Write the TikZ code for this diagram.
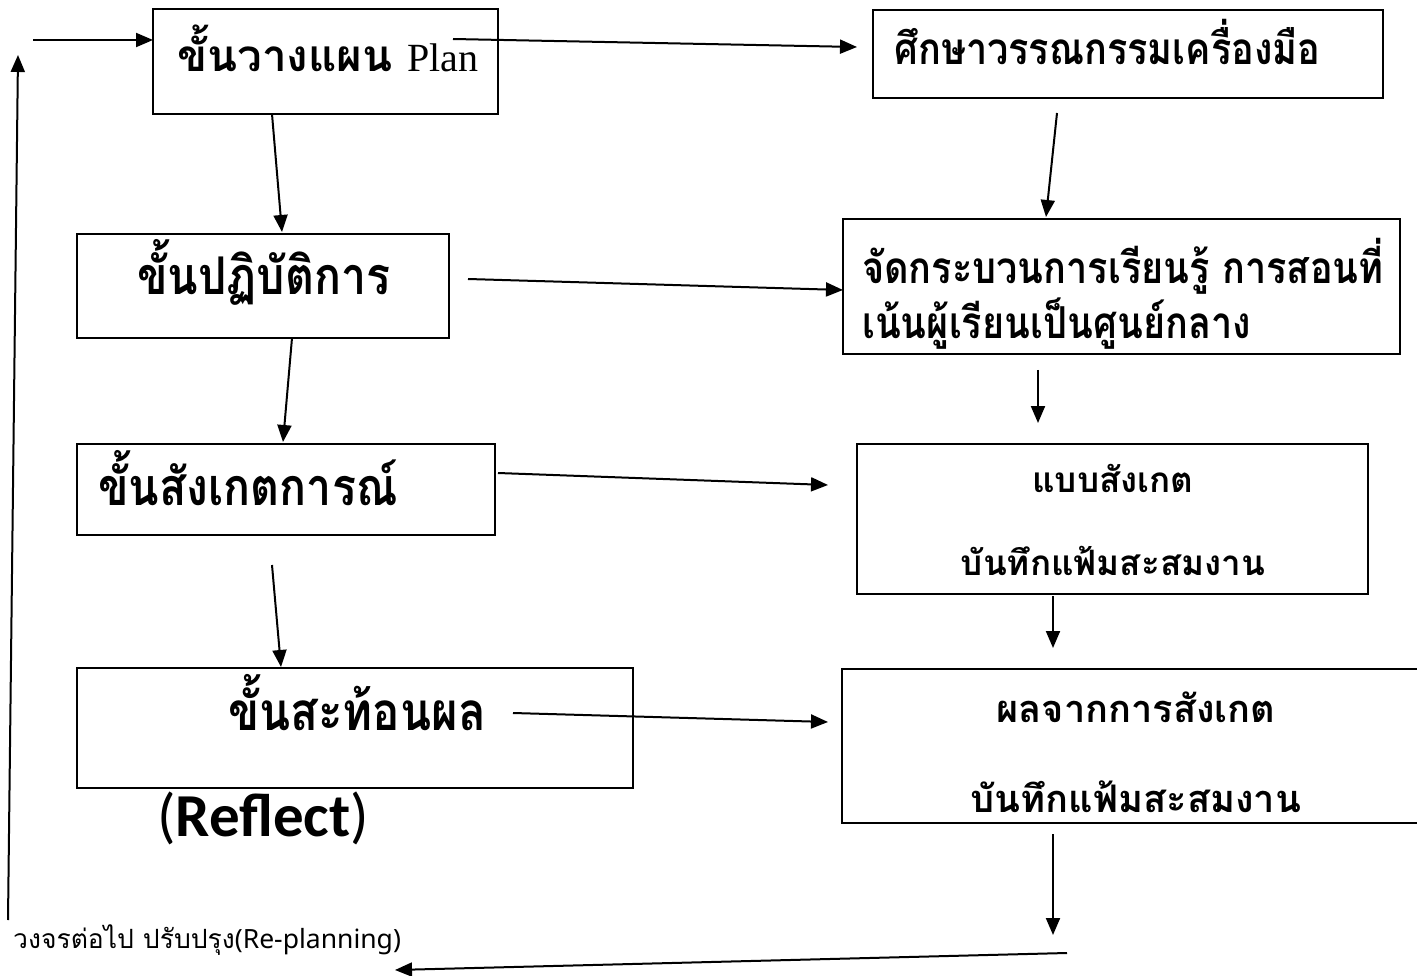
\documentclass[tikz,border=0pt]{standalone}
\usepackage{fontspec}
\setmainfont{Liberation Serif}
\newfontfamily\thai[Script=Thai]{Loma}
\newfontfamily\thaic[Script=Thai,FakeStretch=0.86]{Loma}
\newfontfamily\carl{Carlito}
\newfontfamily\nsans{Noto Sans}
\usetikzlibrary{arrows.meta}
\begin{document}
\begin{tikzpicture}[x=1pt,y=-1pt,
  box/.style={draw, line width=2pt, inner sep=0pt, outer sep=0pt},
  arr/.style={-{Triangle[length=17pt,width=14pt]}, line width=2pt},
  txt/.style={inner sep=0pt, anchor=base west},
  big/.style={txt, font=\thaic\bfseries\fontsize{52}{58}\selectfont},
  mid/.style={txt, font=\thaic\bfseries\fontsize{44}{50}\selectfont},
  sml/.style={txt, anchor=base, font=\thai\bfseries\fontsize{35}{40}\selectfont}]
\useasboundingbox (0,0) rectangle (1417,976);
% boxes
\node[box, minimum width=345pt, minimum height=105pt] (b1) at (325.5,61.5) {};
\node[box, minimum width=510pt, minimum height=88pt] (b2) at (1128,54) {};
\node[box, minimum width=372pt, minimum height=104pt] (b3) at (263,286) {};
\node[box, minimum width=557pt, minimum height=135pt] (b4) at (1121.5,286.5) {};
\node[box, minimum width=418pt, minimum height=91pt] (b5) at (286,489.5) {};
\node[box, minimum width=511pt, minimum height=150pt] (b6) at (1112.5,519) {};
\node[box, minimum width=556pt, minimum height=120pt] (b7) at (355,728) {};
\node[box, minimum width=580pt, minimum height=154pt] (b8) at (1132,746) {};
% texts
\node[txt, font=\thai\bfseries\fontsize{44}{50}\selectfont] (t1) at (177,72) {ขั้นวางแผน {\rmfamily\mdseries\fontsize{40}{46}\selectfont Plan}};
\node[mid] (t2) at (894,65) {ศึกษาวรรณกรรมเครื่องมือ};
\node[big] (t3) at (137,295) {ขั้นปฏิบัติการ};
\node[mid] (t4a) at (862,284) {จัดกระบวนการเรียนรู้ การสอนที่};
\node[mid] (t4b) at (862,339) {เน้นผู้เรียนเป็นศูนย์กลาง};
\node[big] (t5) at (98,505) {ขั้นสังเกตการณ์};
\node[sml] (t6a) at (1113,492) {แบบสังเกต};
\node[sml] (t6b) at (1113,575) {บันทึกแฟ้มสะสมงาน};
\node[big] (t7) at (228,730) {\fontsize{53}{58}\selectfont ขั้นสะท้อนผล};
\node[txt, font=\carl\fontsize{61}{66}\selectfont] (t7r) at (157,836) {(\textbf{Reflect})};
\node[sml] (t8a) at (1136,722) {\fontsize{38}{44}\selectfont ผลจากการสังเกต};
\node[sml] (t8b) at (1136,812) {\fontsize{38}{44}\selectfont บันทึกแฟ้มสะสมงาน};
\node[txt, font=\thai\fontsize{26.5}{30}\selectfont] (t9) at (13,948) {วงจรต่อไป ปรับปรุง{\nsans(Re-planning)}};
% free-end coordinates
\coordinate (s0) at (33,40);
\coordinate (l0) at (8,920);
\coordinate (l1) at (18,55);
\coordinate (p0) at (453,39);
\coordinate (p1) at (857,47);
\coordinate (q0) at (468,279);
\coordinate (q1) at (843,290);
\coordinate (r0) at (1038,370);
\coordinate (r1) at (1038,423);
\coordinate (u0) at (498,473);
\coordinate (u1) at (828,485);
\coordinate (v0) at (272,565);
\coordinate (w0) at (513,713);
\coordinate (w1) at (828,722);
\coordinate (z0) at (1053,834);
\coordinate (z1) at (1053,935);
\coordinate (y0) at (1067,953);
\coordinate (y1) at (395,970);
\coordinate (m0) at (1057,113);
% connectors
\draw[arr] (s0) -- (s0 -| b1.west);
\draw[arr] (l0) -- (l1);
\draw[arr] (p0) -- (p1);
\draw[arr] ([xshift=119pt]b1.south west) -- ([xshift=205pt,yshift=2pt]b3.north west);
\draw[arr] (m0) -- ([xshift=203pt,yshift=2pt]b4.north west);
\draw[arr] (q0) -- (q1);
\draw[arr] ([xshift=215pt]b3.south west) -- ([xshift=206pt,yshift=2pt]b5.north west);
\draw[arr] (r0) -- (r1);
\draw[arr] (u0) -- (u1);
\draw[arr] (v0) -- ([xshift=204pt,yshift=1pt]b7.north west);
\draw[arr] ([xshift=196pt,yshift=-2pt]b6.south west) -- ([xshift=196pt,yshift=-54pt]b6.south west);
\draw[arr] (w0) -- (w1);
\draw[arr] (z0) -- (z1);
\draw[arr] (y0) -- (y1);
\end{tikzpicture}
\end{document}
